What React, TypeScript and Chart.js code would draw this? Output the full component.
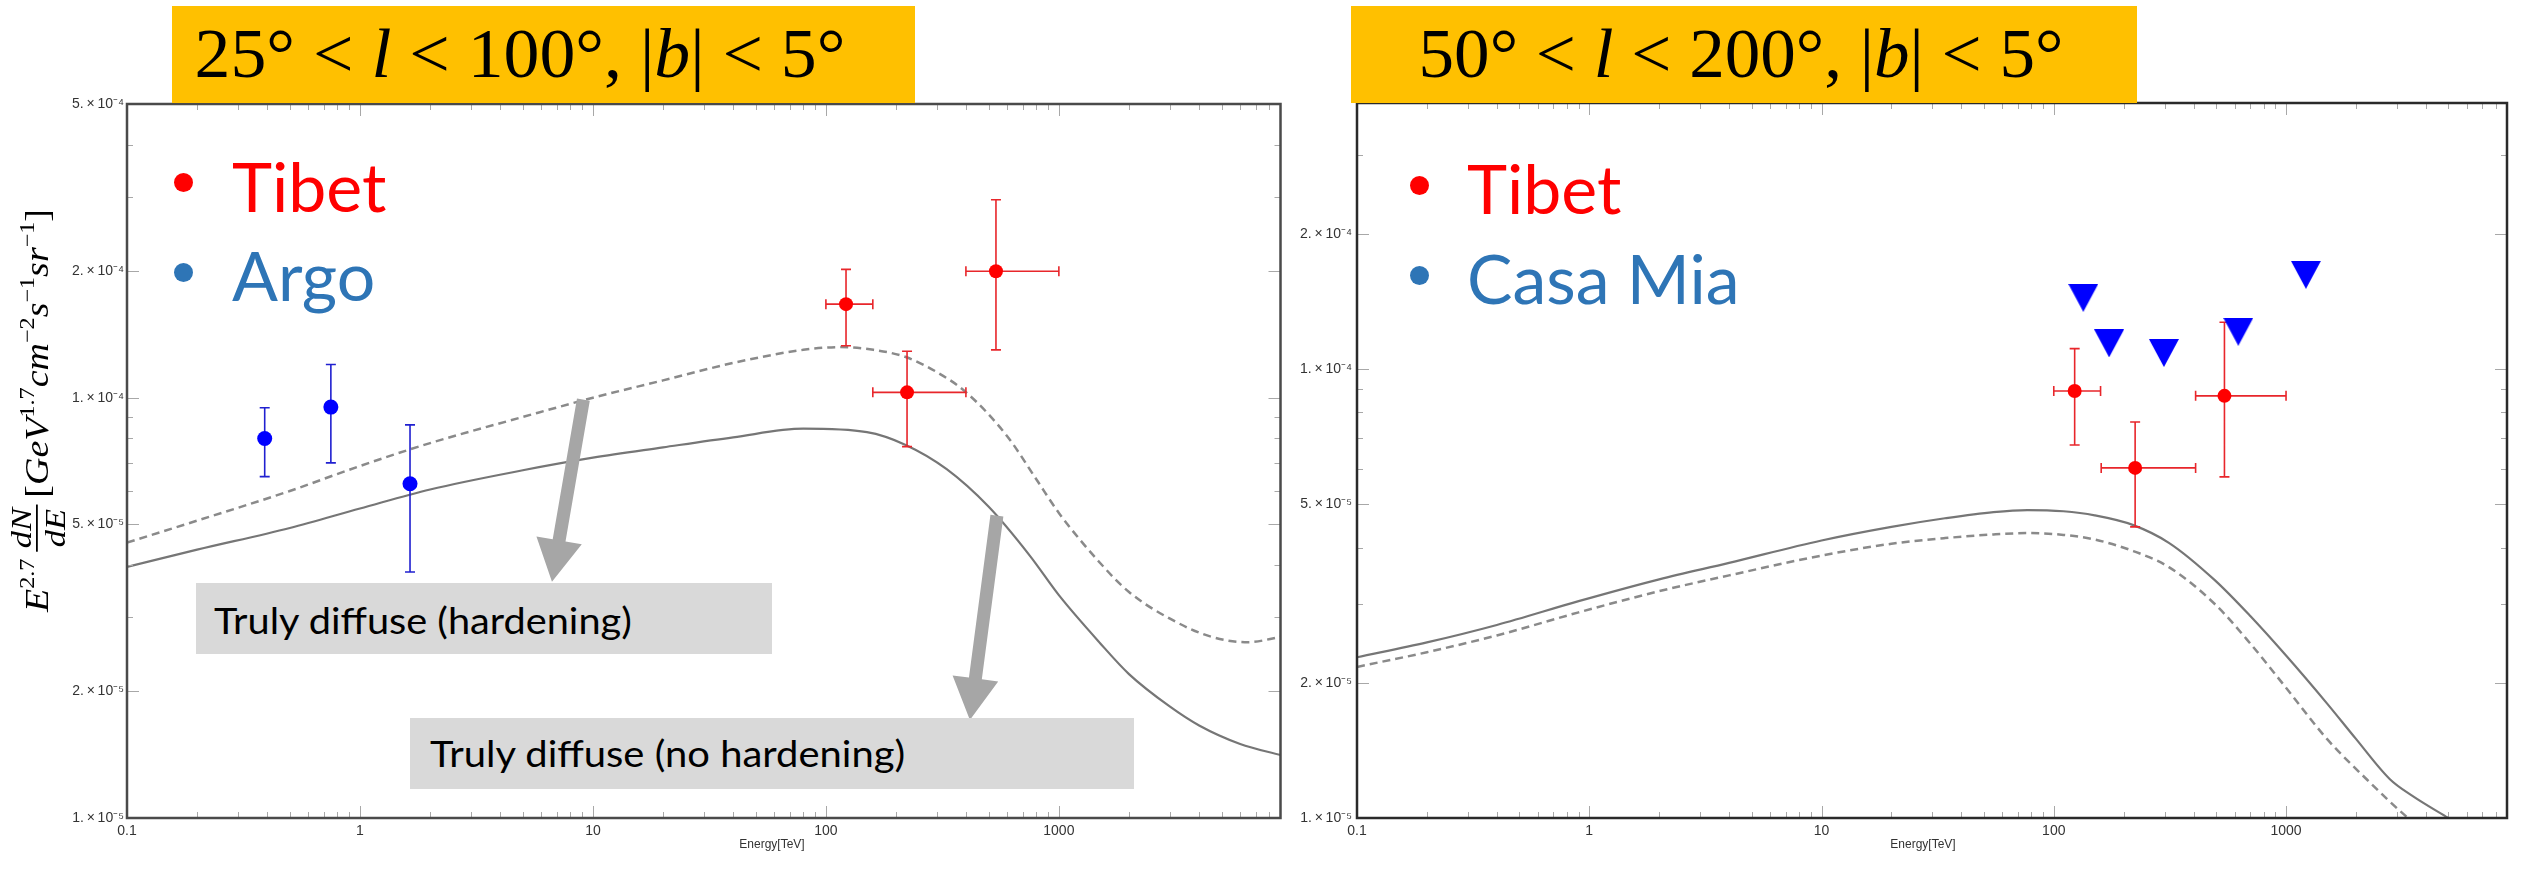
import React, { useEffect, useLayoutEffect, useRef, useState } from 'react';
import { Chart, registerables } from 'chart.js';

Chart.register(...registerables);

// ---------------- Data ----------------
const energyMin = 0.1;
const energyMax = 8940;
const energyTickValues = [0.1, 1, 10, 100, 1000];
const energyTickLabels = ['0.1', '1', '10', '100', '1000'];

const leftFluxMin = 1e-5;
const leftFluxMax = 5e-4;
const leftFluxTickValues = [1e-5, 2e-5, 5e-5, 1e-4, 2e-4, 5e-4];
const leftFluxTickLabels = ['1.\u2009×\u200910⁻⁵', '2.\u2009×\u200910⁻⁵', '5.\u2009×\u200910⁻⁵', '1.\u2009×\u200910⁻⁴', '2.\u2009×\u200910⁻⁴', '5.\u2009×\u200910⁻⁴'];

const rightFluxMin = 1e-5;
const rightFluxMax = 3.91e-4;
const rightFluxTickValues = [1e-5, 2e-5, 5e-5, 1e-4, 2e-4];
const rightFluxTickLabels = ['1.\u2009×\u200910⁻⁵', '2.\u2009×\u200910⁻⁵', '5.\u2009×\u200910⁻⁵', '1.\u2009×\u200910⁻⁴', '2.\u2009×\u200910⁻⁴'];

// Left panel: 25° < l < 100°
const leftSolidEnergy = [0.1, 0.2, 0.5, 1, 2, 5, 10, 20, 40, 80, 150, 220, 330, 500, 750, 1000, 1500, 2000, 3000, 4000, 6000, 9000];
const leftSolidFlux = [3.96e-5, 4.35e-5, 4.9e-5, 5.45e-5, 6.05e-5, 6.72e-5, 7.2e-5, 7.62e-5, 8.05e-5, 8.44e-5, 8.28e-5, 7.72e-5, 6.76e-5, 5.5e-5, 4.21e-5, 3.39e-5, 2.61e-5, 2.2e-5, 1.84e-5, 1.66e-5, 1.5e-5, 1.41e-5];
const leftDashedEnergy = [0.1, 0.2, 0.5, 1, 2, 5, 10, 20, 40, 80, 115, 160, 220, 300, 400, 600, 800, 1000, 1500, 2000, 3000, 4500, 6500, 9000];
const leftDashedFlux = [4.52e-5, 5.1e-5, 6.0e-5, 6.88e-5, 7.8e-5, 9.0e-5, 1.0e-4, 1.1e-4, 1.21e-4, 1.3e-4, 1.32e-4, 1.3e-4, 1.25e-4, 1.15e-4, 1.03e-4, 8.1e-5, 6.4e-5, 5.32e-5, 4.05e-5, 3.45e-5, 2.98e-5, 2.7e-5, 2.62e-5, 2.7e-5];

const argoEnergy = [0.39, 0.75, 1.64];
const argoFlux = [8.0e-5, 9.5e-5, 6.24e-5];
const argoFluxLow = [6.49e-5, 7.0e-5, 3.85e-5];
const argoFluxHigh = [9.47e-5, 1.2e-4, 8.62e-5];

const tibetLeftEnergy = [122, 223, 537];
const tibetLeftEnergyLow = [100, 159, 399];
const tibetLeftEnergyHigh = [159, 399, 1000];
const tibetLeftFlux = [1.67e-4, 1.03e-4, 2.0e-4];
const tibetLeftFluxLow = [1.33e-4, 7.65e-5, 1.3e-4];
const tibetLeftFluxHigh = [2.02e-4, 1.29e-4, 2.96e-4];

// arrows (energy, flux) tail -> tip
const arrowTailEnergy = [9.1, 542];
const arrowTailFlux = [9.9e-5, 5.24e-5];
const arrowTipEnergy = [6.67, 415];
const arrowTipFlux = [3.65e-5, 1.71e-5];

// Right panel: 50° < l < 200°
const rightSolidEnergy = [0.1, 0.2, 0.4, 0.9, 2, 4, 10, 20, 34, 55, 77, 110, 150, 220, 313, 492, 700, 1000, 1500, 2000, 2800, 3500, 5000, 7000];
const rightSolidFlux = [2.28e-5, 2.46e-5, 2.69e-5, 3.04e-5, 3.4e-5, 3.7e-5, 4.15e-5, 4.45e-5, 4.65e-5, 4.8e-5, 4.85e-5, 4.82e-5, 4.72e-5, 4.49e-5, 4.1e-5, 3.39e-5, 2.82e-5, 2.3e-5, 1.8e-5, 1.5e-5, 1.22e-5, 1.12e-5, 1.0e-5, 0.9e-5];
const rightDashedEnergy = [0.1, 0.2, 0.4, 0.9, 2, 4, 10, 20, 34, 55, 77, 110, 150, 220, 313, 492, 700, 1000, 1500, 2240, 3350, 5000];
const rightDashedFlux = [2.17e-5, 2.34e-5, 2.55e-5, 2.87e-5, 3.2e-5, 3.47e-5, 3.84e-5, 4.08e-5, 4.2e-5, 4.28e-5, 4.31e-5, 4.27e-5, 4.17e-5, 3.93e-5, 3.62e-5, 3.0e-5, 2.45e-5, 1.95e-5, 1.5e-5, 1.215e-5, 1.0e-5, 0.85e-5];

const tibetRightEnergy = [123, 224, 543];
const tibetRightEnergyLow = [100, 160, 408];
const tibetRightEnergyHigh = [159, 408, 1000];
const tibetRightFlux = [8.93e-5, 6.02e-5, 8.71e-5];
const tibetRightFluxLow = [6.77e-5, 4.45e-5, 5.75e-5];
const tibetRightFluxHigh = [1.11e-4, 7.62e-5, 1.27e-4];

const casaMiaEnergy = [134, 173, 298, 623, 1218];
const casaMiaFlux = [1.44e-4, 1.14e-4, 1.085e-4, 1.21e-4, 1.62e-4];

// ---------------- helpers ----------------
const pts = (xs: number[], ys: number[]) => xs.map((x, i) => ({ x, y: ys[i] }));

function logTicks(min: number, max: number) {
  const out: number[] = [];
  for (let k = Math.floor(Math.log10(min)) - 1; k <= Math.ceil(Math.log10(max)); k++) {
    for (let m = 1; m <= 9; m++) {
      const v = m * Math.pow(10, k);
      if (v >= min * (1 - 1e-9) && v <= max * (1 + 1e-9)) out.push(v);
    }
  }
  return out;
}
const same = (a: number, b: number) => Math.abs(a / b - 1) < 1e-6;
const labelOf = (vals: number[], labels: string[]) => (v: number) => {
  const i = vals.findIndex((t) => same(t, v));
  return i >= 0 ? labels[i] : '';
};

type ErrSet = {
  e: number[]; f: number[]; fLow: number[]; fHigh: number[];
  eLow?: number[]; eHigh?: number[]; color: string; width: number; cap: number;
};

function drawArrow(ctx: CanvasRenderingContext2D, x1: number, y1: number, x2: number, y2: number, shaftW: number, headL: number, headW: number) {
  const dx = x2 - x1, dy = y2 - y1, len = Math.hypot(dx, dy);
  const ux = dx / len, uy = dy / len, nx = -uy, ny = ux;
  const bx = x2 - ux * headL, by = y2 - uy * headL;
  ctx.beginPath();
  ctx.moveTo(x1 + nx * shaftW / 2, y1 + ny * shaftW / 2);
  ctx.lineTo(bx + nx * shaftW / 2, by + ny * shaftW / 2);
  ctx.lineTo(bx + nx * headW / 2, by + ny * headW / 2);
  ctx.lineTo(x2, y2);
  ctx.lineTo(bx - nx * headW / 2, by - ny * headW / 2);
  ctx.lineTo(bx - nx * shaftW / 2, by - ny * shaftW / 2);
  ctx.lineTo(x1 - nx * shaftW / 2, y1 - ny * shaftW / 2);
  ctx.closePath();
  ctx.fill();
}

function drawYTitle(ctx: CanvasRenderingContext2D) {
  const fam = '"Liberation Serif", "DejaVu Serif", serif';
  const f = (it: boolean, sz: number) => `${it ? 'italic ' : ''}${sz}px ${fam}`;
  type Seg = { t: string; it: boolean; sz: number; dy: number };
  const before: Seg[] = [
    { t: 'E', it: true, sz: 33, dy: 0 },
    { t: '2.7', it: false, sz: 21, dy: -14 },
  ];
  const after: Seg[] = [
    { t: '[', it: false, sz: 33, dy: 0 },
    { t: 'GeV', it: true, sz: 33, dy: 0 },
    { t: '1.7', it: false, sz: 21, dy: -14 },
    { t: 'cm', it: true, sz: 33, dy: 0 },
    { t: '−2', it: false, sz: 21, dy: -14 },
    { t: 's', it: true, sz: 33, dy: 0 },
    { t: '−1', it: false, sz: 21, dy: -14 },
    { t: 'sr', it: true, sz: 33, dy: 0 },
    { t: '−1', it: false, sz: 21, dy: -14 },
    { t: ']', it: false, sz: 33, dy: 0 },
  ];
  const w = (s: Seg) => { ctx.font = f(s.it, s.sz); return ctx.measureText(s.t).width; };
  ctx.font = f(true, 30);
  const fracW = Math.max(ctx.measureText('dN').width, ctx.measureText('dE').width) + 6;
  const gap = 6;
  const total = before.reduce((a, s) => a + w(s), 0) + gap + fracW + gap + after.reduce((a, s) => a + w(s), 0);
  const k = 403 / total;
  ctx.save();
  ctx.translate(48, 612);
  ctx.rotate(-Math.PI / 2);
  ctx.scale(k, 1);
  ctx.fillStyle = '#000';
  ctx.textBaseline = 'alphabetic';
  let x = 0;
  for (const s of before) { ctx.font = f(s.it, s.sz); ctx.fillText(s.t, x, s.dy); x += w(s); }
  x += gap;
  ctx.font = f(true, 30);
  ctx.textAlign = 'center';
  ctx.fillText('dN', x + fracW / 2, -17);
  ctx.fillText('dE', x + fracW / 2, 17);
  ctx.fillRect(x, -12, fracW, 1.8);
  ctx.textAlign = 'left';
  x += fracW + gap;
  for (const s of after) { ctx.font = f(s.it, s.sz); ctx.fillText(s.t, x, s.dy); x += w(s); }
  ctx.restore();
}

type PanelSpec = {
  padTop: number; padRight: number; yAxisWidth: number; xAxisHeight: number;
  yMin: number; yMax: number; yTickValues: number[]; yTickLabels: string[]; yPad: number;
  solidE: number[]; solidF: number[]; dashedE: number[]; dashedF: number[];
  pointSets: any[]; errSets: ErrSet[]; frameColor: string; yTitle: boolean;
  arrows?: boolean;
};

function makeConfig(p: PanelSpec): any {
  const xLabel = labelOf(energyTickValues, energyTickLabels);
  const yLabel = labelOf(p.yTickValues, p.yTickLabels);
  const tickFont = { family: '"Liberation Sans", Arial, sans-serif', size: 14 };
  const plugins: any[] = [
    {
      id: 'errbars',
      afterDatasetDraw(chart: any, args: any) {
        if (args.index !== p.pointSets.length) return;
        const { ctx, scales } = chart;
        const xs = scales.x, ys = scales.y;
        for (const s of p.errSets) {
          ctx.save();
          ctx.strokeStyle = s.color;
          ctx.lineWidth = s.width;
          ctx.beginPath();
          for (let i = 0; i < s.e.length; i++) {
            const px = xs.getPixelForValue(s.e[i]);
            const py = ys.getPixelForValue(s.f[i]);
            const yl = ys.getPixelForValue(s.fLow[i]);
            const yh = ys.getPixelForValue(s.fHigh[i]);
            ctx.moveTo(px, yl); ctx.lineTo(px, yh);
            ctx.moveTo(px - s.cap, yl); ctx.lineTo(px + s.cap, yl);
            ctx.moveTo(px - s.cap, yh); ctx.lineTo(px + s.cap, yh);
            if (s.eLow && s.eHigh) {
              const xl = xs.getPixelForValue(s.eLow[i]);
              const xh = xs.getPixelForValue(s.eHigh[i]);
              ctx.moveTo(xl, py); ctx.lineTo(xh, py);
              ctx.moveTo(xl, py - s.cap); ctx.lineTo(xl, py + s.cap);
              ctx.moveTo(xh, py - s.cap); ctx.lineTo(xh, py + s.cap);
            }
          }
          ctx.stroke();
          ctx.restore();
        }
      },
    },
    {
      id: 'frameTicks',
      afterDraw(chart: any) {
        const { ctx, chartArea: a, scales } = chart;
        const xs = scales.x, ys = scales.y;
        ctx.save();
        ctx.strokeStyle = '#a8a8a8';
        ctx.lineWidth = 1;
        ctx.beginPath();
        for (const v of logTicks(energyMin, energyMax)) {
          const px = Math.round(xs.getPixelForValue(v)) + 0.5;
          const L = energyTickValues.some((t) => same(t, v)) ? 12 : 6;
          ctx.moveTo(px, a.bottom); ctx.lineTo(px, a.bottom - L);
          ctx.moveTo(px, a.top); ctx.lineTo(px, a.top + L);
        }
        for (const v of logTicks(p.yMin, p.yMax)) {
          const py = Math.round(ys.getPixelForValue(v)) + 0.5;
          const L = p.yTickValues.some((t) => same(t, v)) ? 12 : 6;
          ctx.moveTo(a.left, py); ctx.lineTo(a.left + L, py);
          ctx.moveTo(a.right, py); ctx.lineTo(a.right - L, py);
        }
        ctx.stroke();
        ctx.strokeStyle = p.frameColor;
        ctx.lineWidth = 2.5;
        ctx.strokeRect(a.left, a.top, a.right - a.left, a.bottom - a.top);
        if (p.arrows) {
          ctx.fillStyle = '#a6a6a6';
          for (let i = 0; i < arrowTailEnergy.length; i++) {
            drawArrow(ctx,
              xs.getPixelForValue(arrowTailEnergy[i]), ys.getPixelForValue(arrowTailFlux[i]),
              xs.getPixelForValue(arrowTipEnergy[i]), ys.getPixelForValue(arrowTipFlux[i]),
              13, 42, 46);
          }
        }
        if (p.yTitle) drawYTitle(ctx);
        ctx.restore();
      },
    },
  ];

  return {
    type: 'scatter',
    data: {
      datasets: [
        ...p.pointSets,
        {
          data: pts(p.solidE, p.solidF), showLine: true, borderColor: '#767676', borderWidth: 2.2,
          pointRadius: 0, cubicInterpolationMode: 'monotone', fill: false,
        },
        {
          data: pts(p.dashedE, p.dashedF), showLine: true, borderColor: '#8a8a8a', borderWidth: 2.5,
          borderDash: [8, 5], pointRadius: 0, cubicInterpolationMode: 'monotone', fill: false,
        },
      ],
    },
    options: {
      responsive: false,
      animation: false,
      devicePixelRatio: 1,
      events: [],
      layout: { padding: { left: 0, top: p.padTop, right: p.padRight, bottom: 0 } },
      plugins: { legend: { display: false }, tooltip: { enabled: false } },
      scales: {
        x: {
          type: 'logarithmic', min: energyMin, max: energyMax, position: 'bottom',
          afterBuildTicks: (s: any) => { s.ticks = logTicks(energyMin, energyMax).map((v) => ({ value: v })); },
          afterFit: (s: any) => { s.height = p.xAxisHeight; },
          ticks: { callback: (v: any) => xLabel(Number(v)), autoSkip: false, maxRotation: 0, minRotation: 0, padding: 5, font: tickFont, color: '#333' },
          grid: { display: false, drawTicks: false },
          border: { display: false },
        },
        y: {
          type: 'logarithmic', min: p.yMin, max: p.yMax, position: 'left',
          afterBuildTicks: (s: any) => { s.ticks = logTicks(p.yMin, p.yMax).map((v) => ({ value: v })); },
          afterFit: (s: any) => { s.width = p.yAxisWidth; },
          ticks: { callback: (v: any) => yLabel(Number(v)), autoSkip: false, padding: p.yPad, font: tickFont, color: '#333' },
          grid: { display: false, drawTicks: false },
          border: { display: false },
        },
      },
    },
    plugins,
  };
}

function makeTriangle(): HTMLCanvasElement {
  const c = document.createElement('canvas');
  c.width = 30; c.height = 28;
  const g = c.getContext('2d')!;
  g.fillStyle = '#0000ff';
  g.beginPath(); g.moveTo(0, 0); g.lineTo(30, 0); g.lineTo(15, 28); g.closePath(); g.fill();
  return c;
}

function ChartCanvas({ left, width, build }: { left: number; width: number; build: () => any }) {
  const ref = useRef<HTMLCanvasElement>(null);
  useEffect(() => {
    const chart = new Chart(ref.current!, build());
    return () => chart.destroy();
  }, []);
  return <canvas ref={ref} width={width} height={873} style={{ position: 'absolute', left, top: 0, width, height: 873 }} />;
}

function Txt({ x, base, size, fam, asc, color = '#000', fit, anchor = 'start', children }: any) {
  const ref = useRef<HTMLDivElement>(null);
  const [k, setK] = useState(1);
  useLayoutEffect(() => {
    if (fit && ref.current) {
      const nat = ref.current.offsetWidth;
      if (nat > 0) setK(fit / nat);
    }
  }, [fit]);
  const tr = anchor === 'middle' ? `translateX(-50%) scaleX(${k})` : `scaleX(${k})`;
  return (
    <div ref={ref} style={{
      position: 'absolute', left: x, top: base - asc * size, fontFamily: fam, fontSize: size,
      lineHeight: 'normal', color, whiteSpace: 'nowrap', transform: tr,
      transformOrigin: anchor === 'middle' ? 'center top' : 'left top',
    }}>{children}</div>
  );
}

const SERIF = '"Liberation Serif", "DejaVu Serif", serif';
const SANS = 'Lato, "Open Sans", sans-serif';
const LATO_ASC = 0.987;
const SERIF_ASC = 0.891;
const ARIAL_ASC = 0.905;

function Bullet({ x, y, color }: any) {
  return <div style={{ position: 'absolute', left: x - 9.5, top: y - 9.5, width: 19, height: 19, borderRadius: '50%', background: color }} />;
}

export default function App() {
  const buildLeft = () => makeConfig({
    padTop: 104, padRight: 1288 - 1282, yAxisWidth: 127, xAxisHeight: 55,
    yMin: leftFluxMin, yMax: leftFluxMax, yTickValues: leftFluxTickValues, yTickLabels: leftFluxTickLabels, yPad: 3,
    solidE: leftSolidEnergy, solidF: leftSolidFlux, dashedE: leftDashedEnergy, dashedF: leftDashedFlux,
    frameColor: '#4a4a4a', yTitle: true, arrows: true,
    pointSets: [
      { data: pts(tibetLeftEnergy, tibetLeftFlux), pointRadius: 7, backgroundColor: '#ff0000', borderWidth: 0 },
      { data: pts(argoEnergy, argoFlux), pointRadius: 7.5, backgroundColor: '#0000ff', borderWidth: 0 },
    ],
    errSets: [
      { e: tibetLeftEnergy, f: tibetLeftFlux, fLow: tibetLeftFluxLow, fHigh: tibetLeftFluxHigh, eLow: tibetLeftEnergyLow, eHigh: tibetLeftEnergyHigh, color: '#e8262b', width: 1.6, cap: 5 },
      { e: argoEnergy, f: argoFlux, fLow: argoFluxLow, fHigh: argoFluxHigh, color: '#2020d0', width: 1.6, cap: 5 },
    ],
  });
  const buildRight = () => makeConfig({
    padTop: 103, padRight: 4, yAxisWidth: 69, xAxisHeight: 55,
    yMin: rightFluxMin, yMax: rightFluxMax, yTickValues: rightFluxTickValues, yTickLabels: rightFluxTickLabels, yPad: 5,
    solidE: rightSolidEnergy, solidF: rightSolidFlux, dashedE: rightDashedEnergy, dashedF: rightDashedFlux,
    frameColor: '#2a2a2a', yTitle: false,
    pointSets: [
      { data: pts(tibetRightEnergy, tibetRightFlux), pointRadius: 7, backgroundColor: '#ff0000', borderWidth: 0 },
      { data: pts(casaMiaEnergy, casaMiaFlux), pointStyle: makeTriangle(), pointRadius: 15, borderWidth: 0 },
    ],
    errSets: [
      { e: tibetRightEnergy, f: tibetRightFlux, fLow: tibetRightFluxLow, fHigh: tibetRightFluxHigh, eLow: tibetRightEnergyLow, eHigh: tibetRightEnergyHigh, color: '#e8262b', width: 1.6, cap: 5 },
    ],
  });

  return (
    <div style={{ position: 'absolute', left: 0, top: 0, width: 2522, height: 873, background: '#fff', overflow: 'hidden' }}>
      <ChartCanvas left={0} width={1288} build={buildLeft} />
      <ChartCanvas left={1288} width={1234} build={buildRight} />

      {/* title boxes */}
      <div style={{ position: 'absolute', left: 172, top: 6, width: 743, height: 97, background: '#FFC000' }} />
      <div style={{ position: 'absolute', left: 1351, top: 6, width: 786, height: 97, background: '#FFC000' }} />
      <Txt x={520} base={76} size={70} fam={SERIF} asc={SERIF_ASC} fit={651} anchor="middle">
        25° &lt; <i>l</i> &lt; 100°, |<i>b</i>| &lt; 5°
      </Txt>
      <Txt x={1741} base={76} size={70} fam={SERIF} asc={SERIF_ASC} fit={645} anchor="middle">
        50° &lt; <i>l</i> &lt; 200°, |<i>b</i>| &lt; 5°
      </Txt>

      {/* legends */}
      <Bullet x={183} y={182} color="#ff0000" />
      <Txt x={232} base={212} size={68} fam={SANS} asc={LATO_ASC} color="#ff0000">Tibet</Txt>
      <Bullet x={183} y={272} color="#2e75b6" />
      <Txt x={232} base={301} size={68} fam={SANS} asc={LATO_ASC} color="#2e75b6">Argo</Txt>

      <Bullet x={1419} y={185} color="#ff0000" />
      <Txt x={1467} base={214} size={68} fam={SANS} asc={LATO_ASC} color="#ff0000">Tibet</Txt>
      <Bullet x={1419} y={275} color="#2e75b6" />
      <Txt x={1467} base={304} size={68} fam={SANS} asc={LATO_ASC} color="#2e75b6">Casa Mia</Txt>

      {/* annotation boxes */}
      <div style={{ position: 'absolute', left: 196, top: 583, width: 576, height: 71, background: '#d9d9d9' }} />
      <Txt x={214} base={634} size={36} fam={SANS} asc={LATO_ASC} fit={418}>Truly diffuse (hardening)</Txt>
      <div style={{ position: 'absolute', left: 410, top: 718, width: 724, height: 71, background: '#d9d9d9' }} />
      <Txt x={430} base={767} size={37} fam={SANS} asc={LATO_ASC} fit={475}>Truly diffuse (no hardening)</Txt>

      {/* x axis titles */}
      <Txt x={772} base={848} size={12} fam={'"Liberation Sans", Arial, sans-serif'} asc={ARIAL_ASC} color="#333" anchor="middle">Energy[TeV]</Txt>
      <Txt x={1923} base={848} size={12} fam={'"Liberation Sans", Arial, sans-serif'} asc={ARIAL_ASC} color="#333" anchor="middle">Energy[TeV]</Txt>
    </div>
  );
}
